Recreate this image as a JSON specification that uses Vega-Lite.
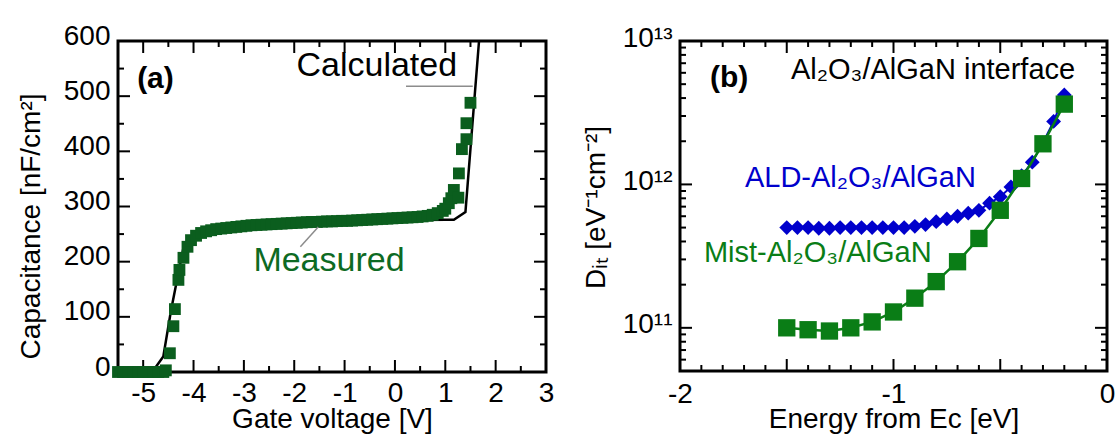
{
  "$schema": "https://vega.github.io/schema/vega-lite/v6.json",
  "background": "white",
  "padding": {"left": 15, "top": 20, "right": 0, "bottom": 0},
  "spacing": 24,
  "config": {
    "font": "Liberation Sans",
    "view": {"stroke": "black", "strokeWidth": 3},
    "tick": {"color": "black", "thickness": 2, "opacity": 1},
    "axis": {"grid": false, "domain": false, "ticks": false, "labelFont": "Liberation Sans", "labelFontSize": 28, "labelColor": "black", "labelFlush": false, "labelOverlap": false, "labelBound": false, "titleFont": "Liberation Sans", "titleFontSize": 28, "titleFontWeight": "normal", "titleColor": "black"}
  },
  "datasets": {
    "meas": [
      {"v": -5.5, "c": 0}, {"v": -5.4, "c": 0}, {"v": -5.3, "c": 0}, {"v": -5.2, "c": 0}, {"v": -5.1, "c": 0},
      {"v": -5.0, "c": 0}, {"v": -4.9, "c": 0}, {"v": -4.8, "c": 0}, {"v": -4.7, "c": 0}, {"v": -4.6, "c": 0},
      {"v": -4.55, "c": 3}, {"v": -4.47, "c": 34}, {"v": -4.4, "c": 83}, {"v": -4.37, "c": 114}, {"v": -4.3, "c": 167},
      {"v": -4.28, "c": 185}, {"v": -4.2, "c": 207}, {"v": -4.12, "c": 227}, {"v": -4.05, "c": 239}, {"v": -3.95, "c": 247},
      {"v": -3.85, "c": 252}, {"v": -3.75, "c": 255}, {"v": -3.65, "c": 257}, {"v": -3.55, "c": 259}, {"v": -3.45, "c": 260},
      {"v": -3.35, "c": 261}, {"v": -3.25, "c": 262}, {"v": -3.15, "c": 263}, {"v": -3.05, "c": 264}, {"v": -2.95, "c": 265},
      {"v": -2.85, "c": 266}, {"v": -2.75, "c": 266.5}, {"v": -2.65, "c": 267}, {"v": -2.55, "c": 267.5}, {"v": -2.45, "c": 268},
      {"v": -2.35, "c": 268.5}, {"v": -2.25, "c": 269}, {"v": -2.15, "c": 269.5}, {"v": -2.05, "c": 270}, {"v": -1.95, "c": 270.5},
      {"v": -1.85, "c": 271}, {"v": -1.75, "c": 271.5}, {"v": -1.65, "c": 272}, {"v": -1.55, "c": 272}, {"v": -1.45, "c": 272.5},
      {"v": -1.35, "c": 273}, {"v": -1.25, "c": 273}, {"v": -1.15, "c": 273.5}, {"v": -1.05, "c": 274}, {"v": -0.95, "c": 274},
      {"v": -0.85, "c": 274.5}, {"v": -0.75, "c": 275}, {"v": -0.65, "c": 275.5}, {"v": -0.55, "c": 276}, {"v": -0.45, "c": 276.5},
      {"v": -0.35, "c": 277}, {"v": -0.25, "c": 277.5}, {"v": -0.15, "c": 278}, {"v": -0.05, "c": 278.5}, {"v": 0.05, "c": 279},
      {"v": 0.15, "c": 279.5}, {"v": 0.25, "c": 280}, {"v": 0.35, "c": 280.5}, {"v": 0.45, "c": 281}, {"v": 0.55, "c": 282},
      {"v": 0.65, "c": 283}, {"v": 0.75, "c": 285}, {"v": 0.85, "c": 288}, {"v": 0.95, "c": 292}, {"v": 1.0, "c": 296},
      {"v": 1.07, "c": 306}, {"v": 1.12, "c": 315}, {"v": 1.17, "c": 330}, {"v": 1.26, "c": 316}, {"v": 1.27, "c": 360},
      {"v": 1.33, "c": 404}, {"v": 1.42, "c": 422}, {"v": 1.42, "c": 451}, {"v": 1.5, "c": 488}
    ],
    "calc": [
      {"v": -5.5, "c": 0}, {"v": -4.82, "c": 0}, {"v": -4.6, "c": 28}, {"v": -4.45, "c": 110}, {"v": -4.3, "c": 180},
      {"v": -4.2, "c": 225}, {"v": -4.0, "c": 250}, {"v": -3.5, "c": 262}, {"v": -3.0, "c": 265}, {"v": -2.0, "c": 269},
      {"v": -1.0, "c": 272}, {"v": 0.0, "c": 275}, {"v": 1.0, "c": 276}, {"v": 1.17, "c": 276}, {"v": 1.4, "c": 290},
      {"v": 1.67, "c": 600}
    ],
    "ald": [
      {"e": -1.5, "d": 5.0e11}, {"e": -1.45, "d": 5.0e11}, {"e": -1.4, "d": 5.0e11}, {"e": -1.35, "d": 4.95e11},
      {"e": -1.3, "d": 4.95e11}, {"e": -1.25, "d": 5.0e11}, {"e": -1.2, "d": 5.0e11}, {"e": -1.15, "d": 5.0e11},
      {"e": -1.1, "d": 5.0e11}, {"e": -1.05, "d": 5.0e11}, {"e": -1.0, "d": 5.0e11}, {"e": -0.95, "d": 5.0e11},
      {"e": -0.9, "d": 5.1e11}, {"e": -0.85, "d": 5.25e11}, {"e": -0.8, "d": 5.5e11}, {"e": -0.75, "d": 5.75e11},
      {"e": -0.7, "d": 6.0e11}, {"e": -0.65, "d": 6.3e11}, {"e": -0.6, "d": 6.6e11}, {"e": -0.55, "d": 7.4e11},
      {"e": -0.5, "d": 8.2e11}, {"e": -0.45, "d": 9.6e11}, {"e": -0.4, "d": 1.15e12}, {"e": -0.35, "d": 1.43e12},
      {"e": -0.3, "d": 1.95e12}, {"e": -0.25, "d": 2.75e12}, {"e": -0.2, "d": 4.2e12}
    ],
    "mist": [
      {"e": -1.5, "d": 1.0e11}, {"e": -1.4, "d": 9.7e10}, {"e": -1.3, "d": 9.5e10}, {"e": -1.2, "d": 1.0e11},
      {"e": -1.1, "d": 1.1e11}, {"e": -1.0, "d": 1.29e11}, {"e": -0.9, "d": 1.61e11}, {"e": -0.8, "d": 2.1e11},
      {"e": -0.7, "d": 2.89e11}, {"e": -0.6, "d": 4.2e11}, {"e": -0.5, "d": 6.6e11}, {"e": -0.4, "d": 1.1e12},
      {"e": -0.3, "d": 1.92e12}, {"e": -0.2, "d": 3.63e12}
    ],
    "lxMaj": [{"t": -5}, {"t": -4}, {"t": -3}, {"t": -2}, {"t": -1}, {"t": 0}, {"t": 1}, {"t": 2}],
    "lxMin": [{"t": -4.5}, {"t": -3.5}, {"t": -2.5}, {"t": -1.5}, {"t": -0.5}, {"t": 0.5}, {"t": 1.5}, {"t": 2.5}],
    "lyMaj": [{"t": 100}, {"t": 200}, {"t": 300}, {"t": 400}, {"t": 500}],
    "lyMin": [{"t": 50}, {"t": 150}, {"t": 250}, {"t": 350}, {"t": 450}, {"t": 550}],
    "rxMaj": [{"t": -1.5}, {"t": -1}, {"t": -0.5}],
    "rxMin": [{"t": -1.9}, {"t": -1.8}, {"t": -1.7}, {"t": -1.6}, {"t": -1.4}, {"t": -1.3}, {"t": -1.2}, {"t": -1.1}, {"t": -0.9}, {"t": -0.8}, {"t": -0.7}, {"t": -0.6}, {"t": -0.4}, {"t": -0.3}, {"t": -0.2}, {"t": -0.1}],
    "ryMaj": [{"t": 1e11}, {"t": 1e12}],
    "ryMin": [{"t": 6e10}, {"t": 7e10}, {"t": 8e10}, {"t": 9e10}, {"t": 2e11}, {"t": 3e11}, {"t": 4e11}, {"t": 5e11}, {"t": 6e11}, {"t": 7e11}, {"t": 8e11}, {"t": 9e11}, {"t": 2e12}, {"t": 3e12}, {"t": 4e12}, {"t": 5e12}, {"t": 6e12}, {"t": 7e12}, {"t": 8e12}, {"t": 9e12}]
  },
  "hconcat": [
    {
      "width": 428,
      "height": 331,
      "resolve": {"axis": {"x": "independent", "y": "independent"}},
      "layer": [
        {"data": {"name": "lxMaj"}, "mark": {"type": "tick", "orient": "vertical", "size": 12, "yOffset": -6},
         "encoding": {"x": {"field": "t", "type": "quantitative", "scale": {"domain": [-5.5, 3], "nice": false, "zero": false}, "axis": null},
                      "y": {"datum": 0, "type": "quantitative", "scale": {"domain": [0, 600], "nice": false, "zero": false}, "axis": null}}},
        {"data": {"name": "lxMaj"}, "mark": {"type": "tick", "orient": "vertical", "size": 12, "yOffset": 6},
         "encoding": {"x": {"field": "t", "type": "quantitative", "axis": null}, "y": {"datum": 600, "type": "quantitative", "axis": null}}},
        {"data": {"name": "lxMin"}, "mark": {"type": "tick", "orient": "vertical", "size": 6, "yOffset": -3},
         "encoding": {"x": {"field": "t", "type": "quantitative", "axis": null}, "y": {"datum": 0, "type": "quantitative", "axis": null}}},
        {"data": {"name": "lxMin"}, "mark": {"type": "tick", "orient": "vertical", "size": 6, "yOffset": 3},
         "encoding": {"x": {"field": "t", "type": "quantitative", "axis": null}, "y": {"datum": 600, "type": "quantitative", "axis": null}}},
        {"data": {"name": "lyMaj"}, "mark": {"type": "tick", "orient": "horizontal", "size": 12, "xOffset": 6},
         "encoding": {"y": {"field": "t", "type": "quantitative", "axis": null}, "x": {"datum": -5.5, "type": "quantitative", "axis": null}}},
        {"data": {"name": "lyMaj"}, "mark": {"type": "tick", "orient": "horizontal", "size": 12, "xOffset": -6},
         "encoding": {"y": {"field": "t", "type": "quantitative", "axis": null}, "x": {"datum": 3, "type": "quantitative", "axis": null}}},
        {"data": {"name": "lyMin"}, "mark": {"type": "tick", "orient": "horizontal", "size": 6, "xOffset": 3},
         "encoding": {"y": {"field": "t", "type": "quantitative", "axis": null}, "x": {"datum": -5.5, "type": "quantitative", "axis": null}}},
        {"data": {"name": "lyMin"}, "mark": {"type": "tick", "orient": "horizontal", "size": 6, "xOffset": -3},
         "encoding": {"y": {"field": "t", "type": "quantitative", "axis": null}, "x": {"datum": 3, "type": "quantitative", "axis": null}}},
        {
          "data": {"name": "calc"},
          "mark": {"type": "line", "color": "black", "strokeWidth": 2.5, "clip": true},
          "encoding": {
            "x": {"field": "v", "type": "quantitative", "axis": null},
            "y": {"field": "c", "type": "quantitative", "axis": null}
          }
        },
        {
          "data": {"name": "meas"},
          "mark": {"type": "square", "size": 140, "color": "#0b5e1e", "opacity": 1},
          "encoding": {
            "x": {"field": "v", "type": "quantitative", "scale": {"domain": [-5.5, 3], "nice": false, "zero": false},
                  "axis": {"orient": "bottom", "values": [-5, -4, -3, -2, -1, 0, 1, 2, 3], "labelPadding": 7,
                           "labelExpr": "(datum.value < 0 ? '-' : '') + abs(datum.value)",
                           "title": "Gate voltage [V]", "titleY": 47, "titleBaseline": "middle"}},
            "y": {"field": "c", "type": "quantitative", "scale": {"domain": [0, 600], "nice": false, "zero": false},
                  "axis": {"orient": "left", "values": [0, 100, 200, 300, 400, 500, 600], "labelPadding": 8, "labelOffset": -5,
                           "title": "Capacitance [nF/cm²]", "titleX": -87, "titleY": 185, "titleBaseline": "middle", "titleAlign": "center"}}
          }
        },
        {
          "data": {"values": [{}]},
          "mark": {"type": "rule", "color": "#8c8c8c", "strokeWidth": 1.5},
          "encoding": {
            "x": {"datum": 0.22, "type": "quantitative", "axis": null},
            "x2": {"datum": 1.545},
            "y": {"datum": 518, "type": "quantitative", "axis": null}
          }
        },
        {
          "data": {"values": [{}]},
          "mark": {"type": "rule", "color": "#8c8c8c", "strokeWidth": 1.5},
          "encoding": {
            "x": {"datum": -1.878, "type": "quantitative", "axis": null},
            "x2": {"datum": -1.524},
            "y": {"datum": 227, "type": "quantitative", "axis": null},
            "y2": {"datum": 263}
          }
        },
        {
          "data": {"values": [{}]},
          "mark": {"type": "text", "text": "(a)", "fontSize": 30, "fontWeight": "bold", "align": "left", "baseline": "middle", "color": "black"},
          "encoding": {
            "x": {"datum": -5.12, "type": "quantitative", "axis": null},
            "y": {"datum": 531, "type": "quantitative", "axis": null}
          }
        },
        {
          "data": {"values": [{}]},
          "mark": {"type": "text", "text": "Calculated", "fontSize": 34, "align": "center", "baseline": "middle", "color": "black"},
          "encoding": {
            "x": {"datum": -0.36, "type": "quantitative", "axis": null},
            "y": {"datum": 555, "type": "quantitative", "axis": null}
          }
        },
        {
          "data": {"values": [{}]},
          "mark": {"type": "text", "text": "Measured", "fontSize": 34, "align": "center", "baseline": "middle", "color": "#0d6a23"},
          "encoding": {
            "x": {"datum": -1.31, "type": "quantitative", "axis": null},
            "y": {"datum": 201, "type": "quantitative", "axis": null}
          }
        }
      ]
    },
    {
      "width": 427,
      "height": 330,
      "resolve": {"axis": {"x": "independent", "y": "independent"}},
      "layer": [
        {"data": {"name": "rxMaj"}, "mark": {"type": "tick", "orient": "vertical", "size": 12, "yOffset": -6},
         "encoding": {"x": {"field": "t", "type": "quantitative", "scale": {"domain": [-2, 0], "nice": false, "zero": false}, "axis": null},
                      "y": {"datum": 5e10, "type": "quantitative", "scale": {"type": "log", "domain": [5e10, 1e13], "nice": false}, "axis": null}}},
        {"data": {"name": "rxMaj"}, "mark": {"type": "tick", "orient": "vertical", "size": 12, "yOffset": 6},
         "encoding": {"x": {"field": "t", "type": "quantitative", "axis": null}, "y": {"datum": 1e13, "type": "quantitative", "axis": null}}},
        {"data": {"name": "rxMin"}, "mark": {"type": "tick", "orient": "vertical", "size": 6, "yOffset": -3},
         "encoding": {"x": {"field": "t", "type": "quantitative", "axis": null}, "y": {"datum": 5e10, "type": "quantitative", "axis": null}}},
        {"data": {"name": "rxMin"}, "mark": {"type": "tick", "orient": "vertical", "size": 6, "yOffset": 3},
         "encoding": {"x": {"field": "t", "type": "quantitative", "axis": null}, "y": {"datum": 1e13, "type": "quantitative", "axis": null}}},
        {"data": {"name": "ryMaj"}, "mark": {"type": "tick", "orient": "horizontal", "size": 12, "xOffset": 6},
         "encoding": {"y": {"field": "t", "type": "quantitative", "axis": null}, "x": {"datum": -2, "type": "quantitative", "axis": null}}},
        {"data": {"name": "ryMaj"}, "mark": {"type": "tick", "orient": "horizontal", "size": 12, "xOffset": -6},
         "encoding": {"y": {"field": "t", "type": "quantitative", "axis": null}, "x": {"datum": 0, "type": "quantitative", "axis": null}}},
        {"data": {"name": "ryMin"}, "mark": {"type": "tick", "orient": "horizontal", "size": 6, "xOffset": 3},
         "encoding": {"y": {"field": "t", "type": "quantitative", "axis": null}, "x": {"datum": -2, "type": "quantitative", "axis": null}}},
        {"data": {"name": "ryMin"}, "mark": {"type": "tick", "orient": "horizontal", "size": 6, "xOffset": -3},
         "encoding": {"y": {"field": "t", "type": "quantitative", "axis": null}, "x": {"datum": 0, "type": "quantitative", "axis": null}}},
        {
          "data": {"name": "ald"},
          "mark": {"type": "line", "color": "#0000cc", "strokeWidth": 2},
          "encoding": {
            "x": {"field": "e", "type": "quantitative", "axis": null},
            "y": {"field": "d", "type": "quantitative", "axis": null}
          }
        },
        {
          "data": {"name": "ald"},
          "mark": {"type": "point", "shape": "diamond", "size": 220, "filled": true, "color": "#0000cc", "opacity": 1},
          "encoding": {
            "x": {"field": "e", "type": "quantitative", "axis": null},
            "y": {"field": "d", "type": "quantitative", "axis": null}
          }
        },
        {
          "data": {"name": "mist"},
          "mark": {"type": "line", "color": "#0a7d16", "strokeWidth": 2.5},
          "encoding": {
            "x": {"field": "e", "type": "quantitative", "axis": null},
            "y": {"field": "d", "type": "quantitative", "axis": null}
          }
        },
        {
          "data": {"name": "mist"},
          "mark": {"type": "square", "size": 300, "color": "#0a7d16", "opacity": 1},
          "encoding": {
            "x": {"field": "e", "type": "quantitative", "scale": {"domain": [-2, 0], "nice": false, "zero": false},
                  "axis": {"orient": "bottom", "values": [-2, -1, 0], "labelPadding": 9,
                           "labelExpr": "(datum.value < 0 ? '-' : '') + abs(datum.value)",
                           "title": "Energy from Eᴄ [eV]", "titleY": 48, "titleBaseline": "middle"}},
            "y": {"field": "d", "type": "quantitative", "scale": {"type": "log", "domain": [5e10, 1e13], "nice": false},
                  "axis": {"orient": "left", "values": [1e11, 1e12, 1e13], "labelPadding": 8, "labelOffset": -3,
                           "labelExpr": "datum.value > 5e12 ? '10¹³' : datum.value > 5e11 ? '10¹²' : '10¹¹'",
                           "title": "Dᵢₜ [eV⁻¹cm⁻²]", "titleX": -84, "titleY": 166, "titleBaseline": "middle", "titleAlign": "center"}}
          }
        },
        {
          "data": {"values": [{}]},
          "mark": {"type": "text", "text": "(b)", "fontSize": 30, "fontWeight": "bold", "align": "left", "baseline": "middle", "color": "black"},
          "encoding": {
            "x": {"datum": -1.86, "type": "quantitative", "axis": null},
            "y": {"datum": 5.5e12, "type": "quantitative", "axis": null}
          }
        },
        {
          "data": {"values": [{}]},
          "mark": {"type": "text", "text": "Al₂O₃/AlGaN interface", "fontSize": 29, "align": "left", "baseline": "middle", "color": "black"},
          "encoding": {
            "x": {"datum": -1.48, "type": "quantitative", "axis": null},
            "y": {"datum": 6.3e12, "type": "quantitative", "axis": null}
          }
        },
        {
          "data": {"values": [{}]},
          "mark": {"type": "text", "text": "ALD-Al₂O₃/AlGaN", "fontSize": 29, "align": "left", "baseline": "middle", "color": "#0000cc"},
          "encoding": {
            "x": {"datum": -1.696, "type": "quantitative", "axis": null},
            "y": {"datum": 1.11e12, "type": "quantitative", "axis": null}
          }
        },
        {
          "data": {"values": [{}]},
          "mark": {"type": "text", "text": "Mist-Al₂O₃/AlGaN", "fontSize": 29, "align": "left", "baseline": "middle", "color": "#0a7d16"},
          "encoding": {
            "x": {"datum": -1.888, "type": "quantitative", "axis": null},
            "y": {"datum": 3.33e11, "type": "quantitative", "axis": null}
          }
        }
      ]
    }
  ]
}
